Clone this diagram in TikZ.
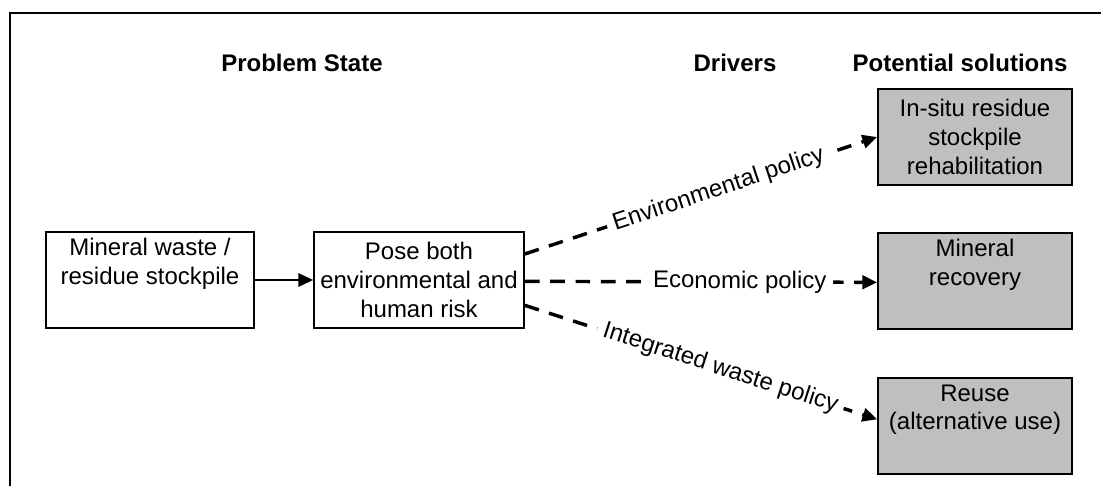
\documentclass[tikz,border=0pt]{standalone}
\usepackage{fontspec}
\setmainfont{Liberation Sans}
\usetikzlibrary{arrows.meta}
\begin{document}
\begin{tikzpicture}[x=0.75pt,y=-0.75pt,
  every node/.style={font=\fontsize{18}{21.5}\selectfont},
  box/.style={draw=black,line width=1.3pt,rectangle,align=center,inner sep=0pt,minimum height=72pt},
  solbox/.style={box,fill=black!25,minimum width=145.5pt},
  head/.style={font=\fontsize{18}{21.5}\selectfont\bfseries},
  solid arrow/.style={line width=1.3pt,-{Triangle[length=11pt,width=10pt]}},
  dash arrow/.style={line width=2.6pt,dash pattern=on 11pt off 8pt,-{Triangle[length=11pt,width=10pt]}},
  lab/.style={fill=white,inner xsep=5pt,inner ysep=1pt,sloped}]
\useasboundingbox (0,0) rectangle (1101,486);
\draw[line width=2pt] (10,490) -- (10,13) -- (1105,13);

\node[head] (h1) at (302,63) {Problem State};
\node[head] (h2) at (735,63) {Drivers};
\node[head] (h3) at (960,63) {Potential solutions};

\node[box,minimum width=156pt] (m) at (150,280) {Mineral waste /\\residue stockpile\\\strut};
\node[box,minimum width=157.5pt] (p) at (419,280) {Pose both\\environmental and\\human risk};

\node[solbox] (a) at (975,137) {In-situ residue\\stockpile\\rehabilitation};
\node[solbox] (b) at (975,281) {Mineral\\recovery\\\strut};
\node[solbox] (c) at (975,426) {Reuse\\(alternative use)\\\strut};

\draw[solid arrow] (m.east) -- (p.east -| p.west);
\draw[dash arrow] ([yshift=19.5pt]p.east) -- node[lab,pos=0.55] (la) {Environmental policy} ([yshift=0pt]a.west);
\draw[dash arrow] ([yshift=-1pt]p.east) -- node[lab,pos=0.61] (lb) {Economic policy} ([yshift=-1pt]b.west);
\draw[dash arrow] ([yshift=-19pt]p.east) -- node[lab,pos=0.555] (lc) {Integrated waste policy} ([yshift=5pt]c.west);
\end{tikzpicture}
\end{document}
